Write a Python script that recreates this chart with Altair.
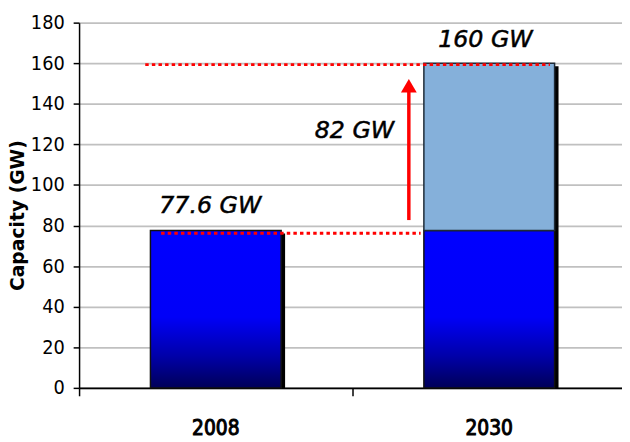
import altair as alt
import pandas as pd

# ---- data ----
categories = ["2008", "2030"]
base_values = [77.6, 77.6]          # installed capacity (dark blue part)
totals = [77.6, 160.0]              # bar totals
added_years = ["2030"]
added_low = [77.6]
added_high = [160.0]
y_ticks = [0, 20, 40, 60, 80, 100, 120, 140, 160, 180]

label_texts = ["77.6 GW", "82 GW", "160 GW"]
label_values = [86.1, 123.2, 167.8]

level_high = 159.3
level_low = 76.2
arrow_from = 82.7
arrow_to = 146.0
arrow_head = 148.9

bars_df = pd.DataFrame({"year": categories, "base": base_values, "total": totals})
top_df = pd.DataFrame({"year": added_years, "low": added_low, "high": added_high})
cat_df = pd.DataFrame({"year": categories})

FONT_NARROW = "Liberation Sans Narrow, Arial Narrow, DejaVu Sans Condensed, sans-serif"
FONT_LABEL = "DejaVu Sans, Verdana, sans-serif"

xscale = alt.Scale(domain=categories, range=[0, 554], paddingInner=0, paddingOuter=0)
yscale = alt.Scale(domain=[0, 180], nice=False)

x_axis = alt.Axis(
    title=None, labels=False, tickBand="extent", tickSize=8, tickColor="black",
    tickWidth=1.5, domainColor="black", domainWidth=2, grid=False,
)
y_axis = alt.Axis(
    title="Capacity (GW)", values=y_ticks, grid=True, gridColor="#c0c0c0", gridWidth=1.8,
    domainColor="black", domainWidth=1.5, tickColor="black", tickWidth=1.5, tickSize=6,
    labelFont=FONT_NARROW, labelFontSize=20, labelColor="black", labelPadding=9,
    titleFont="DejaVu Sans", titleFontSize=19, titleFontWeight="bold", titleColor="black",
    titleAngle=270, titleAlign="center", titleBaseline="alphabetic", titleX=-56, titleY=195,
)


def X(field, bp=None):
    if bp is None:
        return alt.X(field, type="nominal", scale=xscale, axis=x_axis, title=None)
    return alt.X(field, type="nominal", scale=xscale, axis=x_axis, title=None, bandPosition=bp)


def Y(field):
    return alt.Y(field, type="quantitative", scale=yscale, axis=y_axis, title="Capacity (GW)")


base = alt.Chart(bars_df)

shadow = base.mark_bar(
    width=alt.RelativeBandSize(0.478), color="black", xOffset=4, yOffset=3
).encode(
    x=X("year"),
    y=Y("total"),
    y2=alt.datum(0),
)

gradient = alt.Gradient(
    gradient="linear",
    stops=[
        alt.GradientStop(color="#0000ff", offset=0),
        alt.GradientStop(color="#0000f8", offset=0.55),
        alt.GradientStop(color="#0000a8", offset=0.8),
        alt.GradientStop(color="#000058", offset=1),
    ],
    x1=0, x2=0, y1=0, y2=1,
)

base_bars = base.mark_bar(
    width=alt.RelativeBandSize(0.478), color=gradient, stroke="#111111", strokeWidth=1.5
).encode(
    x=X("year"),
    y=Y("base"),
    y2=alt.datum(0),
)

top_bars = alt.Chart(top_df).mark_bar(
    width=alt.RelativeBandSize(0.478), color="#85b0da", stroke="#1e2a36", strokeWidth=1.5
).encode(
    x=X("year"),
    y=Y("high"),
    y2="low:Q",
)

line_high = alt.Chart(pd.DataFrame({"year": ["2008"], "end": ["2030"], "v": [level_high]})).mark_rule(
    color="#ff0000", strokeWidth=3, strokeDash=[3.5, 3.2]
).encode(
    x=X("year", 0.242),
    x2=alt.X2("end:N", bandPosition=0.722),
    y=Y("v"),
)

line_low = alt.Chart(pd.DataFrame({"year": ["2008"], "end": ["2030"], "v": [level_low]})).mark_rule(
    color="#ff0000", strokeWidth=3, strokeDash=[3.5, 3.2]
).encode(
    x=X("year", 0.30),
    x2=alt.X2("end:N", bandPosition=0.249),
    y=Y("v"),
)

arrow_df = pd.DataFrame({"year": ["2030"], "a": [arrow_from], "b": [arrow_to], "h": [arrow_head]})
arrow_shaft = alt.Chart(arrow_df).mark_rule(color="#ff0000", strokeWidth=3.5).encode(
    x=X("year", 0.206),
    y=Y("a"),
    y2="b:Q",
)
arrow_tip = alt.Chart(arrow_df).mark_point(
    shape="triangle-up", filled=True, size=256, color="#ff0000", opacity=1
).encode(
    x=X("year", 0.206),
    y=Y("h"),
)

# category labels under the axis (narrow, heavy)
cat_labels = alt.Chart(cat_df).mark_text(
    font=FONT_NARROW, fontSize=21, color="black", stroke="black", strokeWidth=1.0,
    align="center", baseline="alphabetic", dy=48,
).encode(
    x=X("year"),
    y=alt.datum(0),
    text="year:N",
)


def label_layer(year, text, value, bp):
    df = pd.DataFrame({"year": [year], "t": [text], "v": [value]})
    return alt.Chart(df).mark_text(
        font=FONT_LABEL, fontSize=24, fontStyle="italic", color="black",
        stroke="black", strokeWidth=0.5, align="center", baseline="alphabetic",
    ).encode(
        x=X("year", bp),
        y=Y("v"),
        text="t:N",
    )


lab1 = label_layer("2008", label_texts[0], label_values[0], 0.48)
lab2 = label_layer("2030", label_texts[1], label_values[1], 0.007)
lab3 = label_layer("2030", label_texts[2], label_values[2], 0.486)

chart = alt.layer(
    shadow, base_bars, top_bars, line_high, line_low, arrow_shaft, arrow_tip,
    cat_labels, lab1, lab2, lab3
).properties(
    width=550,
    height=370,
    autosize=alt.AutoSizeParams(type="none"),
    padding={"left": 72, "top": 12, "right": 0, "bottom": 52},
    background="white",
).configure_view(stroke=None)

chart.save("out.html", embed_options={"renderer": "svg", "actions": False})
